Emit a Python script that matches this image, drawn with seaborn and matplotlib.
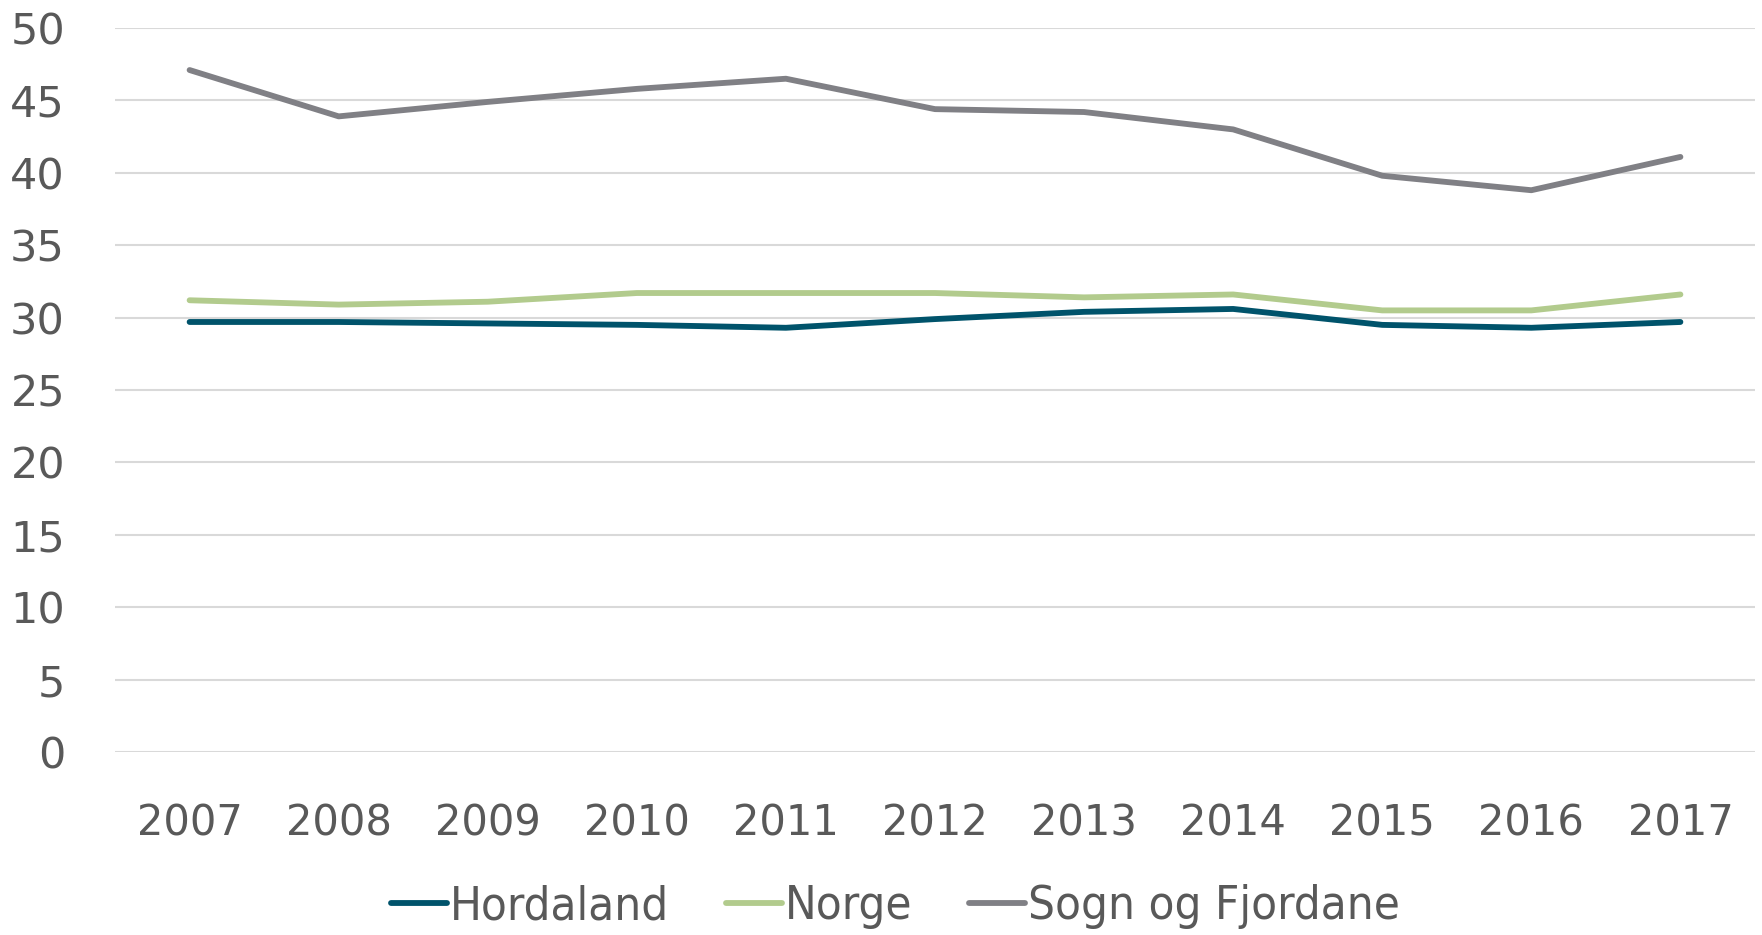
import pandas as pd
import matplotlib.pyplot as plt
import seaborn as sns

# data
years = [2007, 2008, 2009, 2010, 2011, 2012, 2013, 2014, 2015, 2016, 2017]
hordaland = [29.7, 29.7, 29.6, 29.5, 29.3, 29.9, 30.4, 30.6, 29.5, 29.3, 29.7]
norge = [31.2, 30.9, 31.1, 31.7, 31.7, 31.7, 31.4, 31.6, 30.5, 30.5, 31.6]
sogn = [47.1, 43.9, 44.9, 45.8, 46.5, 44.4, 44.2, 43.0, 39.8, 38.8, 41.1]
series_names = ["Hordaland", "Norge", "Sogn og Fjordane"]
colors = ["#00536B", "#B2CB8D", "#808085"]
y_ticks = [0, 5, 10, 15, 20, 25, 30, 35, 40, 45, 50]


def main():
    # long-form table for seaborn
    df = pd.concat([
        pd.DataFrame({"year": years, "value": vals, "region": name})
        for name, vals in zip(series_names, [hordaland, norge, sogn])
    ])

    sns.set_style("white")
    plt.rcParams["font.family"] = ["DejaVu Sans"]
    text_color = "#595959"

    fig = plt.figure(figsize=(17.62, 9.35), dpi=100)
    ax = fig.add_axes([0.0653, 0.1957, 0.9307, 0.7743])

    sns.lineplot(ax=ax, data=df, x="year", y="value", hue="region",
                 palette=dict(zip(series_names, colors)), linewidth=4.2,
                 legend=False)

    ax.set_xlim(years[0] - 0.5, years[-1] + 0.5)
    ax.set_ylim(0, 50)
    ax.set_xticks(years)
    ax.set_xticklabels([str(y) for y in years])
    ax.set_yticks(y_ticks)
    ax.yaxis.grid(True, color="#d9d9d9", linewidth=1.5)
    ax.xaxis.grid(False)
    ax.set_axisbelow(True)
    for s in ax.spines.values():
        s.set_visible(False)
    ax.tick_params(axis="y", length=0, pad=36, labelsize=31, labelcolor=text_color)
    ax.tick_params(axis="x", length=0, pad=36, labelsize=30, labelcolor=text_color)
    ax.set_xlabel("")
    ax.set_ylabel("")

    handles = [plt.Line2D([], [], color=c, linewidth=4.2) for c in colors]
    leg = fig.legend(handles, series_names, loc="center", bbox_to_anchor=(0.508, 0.03),
                     ncol=3, frameon=False, handlelength=1.2, handletextpad=0.05,
                     columnspacing=1.2,
                     prop={"family": ["DejaVu Sans"], "stretch": "condensed", "size": 34})
    for t in leg.get_texts():
        t.set_color(text_color)

    fig.savefig("out.png", dpi=100)


if __name__ == "__main__":
    main()
